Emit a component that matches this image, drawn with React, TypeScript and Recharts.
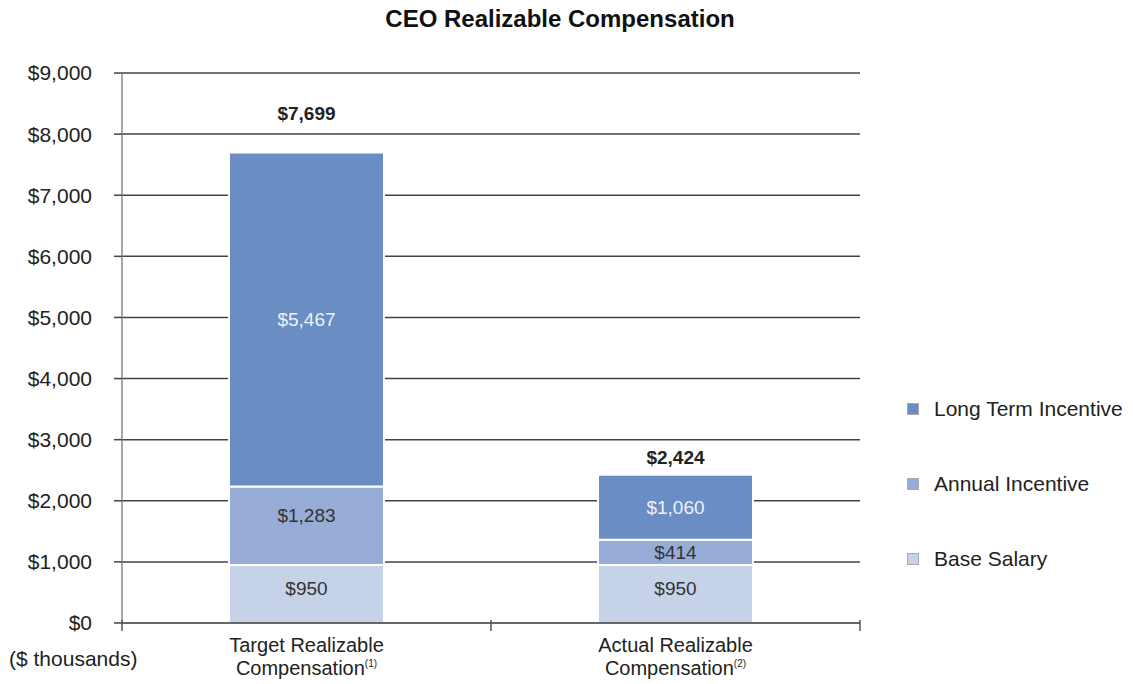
import React from 'react';
import { BarChart, Bar, XAxis, YAxis, CartesianGrid, LabelList } from 'recharts';

const categories = ['Target Realizable Compensation', 'Actual Realizable Compensation'];
const footnotes = ['(1)', '(2)'];
const baseSalary = [950, 950];
const annualIncentive = [1283, 414];
const longTermIncentive = [5467, 1060];
const totals = [7699, 2424];
const yTicks = [0, 1000, 2000, 3000, 4000, 5000, 6000, 7000, 8000, 9000];
const xTicks = [0, 0.5, 1, 1.5, 2];

const data = categories.map((c, i) => ({
  name: c,
  idx: i,
  base: baseSalary[i],
  annual: annualIncentive[i],
  lti: longTermIncentive[i],
  total: totals[i],
}));

const FONT = '"Liberation Sans", Arial, Helvetica, sans-serif';
const fmt = (v: number) => '$' + v.toLocaleString('en-US');

const AxisTick = (props: any) => {
  const { x, y, payload } = props;
  const v = Number(payload.value);
  if (Number.isInteger(v)) {
    return <line x1={x} x2={x} y1={y - 3} y2={y + 8} stroke="#555" strokeWidth={1.5} />;
  }
  const i = Math.floor(v);
  const words = categories[i].split(' ');
  const line1 = words.slice(0, 2).join(' ');
  const line2 = words.slice(2).join(' ');
  return (
    <g>
      <text x={x} y={y + 29} textAnchor="middle" fontSize={20} fill="#222" fontFamily={FONT}>{line1}</text>
      <text x={x} y={y + 52} textAnchor="middle" fontSize={20} fill="#222" fontFamily={FONT}>
        {line2}
        <tspan fontSize={10} dy={-8}>{footnotes[i]}</tspan>
      </text>
    </g>
  );
};

const totalOffsets = [39, 18];
const TotalLabel = (props: any) => {
  const { x, y, width, index } = props;
  return (
    <text x={x + width / 2} y={y - totalOffsets[index] + 7} textAnchor="middle" fontSize={19} fontWeight="bold" fill="#222" fontFamily={FONT}>
      {fmt(totals[index])}
    </text>
  );
};

const inner = (color: string, shifts: number[]) => (props: any) => {
  const { x, y, width, height, value, index } = props;
  return (
    <text x={x + width / 2} y={y + height / 2 + 7 - (shifts[index] || 0)} textAnchor="middle" fontSize={19} fill={color} fontFamily={FONT}>
      {fmt(value)}
    </text>
  );
};

const legendItems = [
  { label: 'Long Term Incentive', color: '#6a8dc4' },
  { label: 'Annual Incentive', color: '#97acd6' },
  { label: 'Base Salary', color: '#c6d2e8' },
];

export default function App() {
  return (
    <div style={{ position: 'absolute', left: 0, top: 0, width: 1133, height: 684, background: '#fff' }}>
      <BarChart width={1133} height={684} data={data} margin={{ top: 73, right: 273, left: 0, bottom: 0 }} barCategoryGap="29%">
        <CartesianGrid horizontal vertical={false} stroke="#444" strokeWidth={1.5} />
        <XAxis dataKey="name" hide height={0} />
        <XAxis xAxisId="t" type="number" dataKey="idx" domain={[0, 2]} ticks={xTicks} height={61} tick={<AxisTick />} tickLine={false} tickSize={0} tickMargin={0} axisLine={{ stroke: '#666', strokeWidth: 2 }} interval={0} allowDataOverflow />
        <YAxis width={122} domain={[0, 9000]} ticks={yTicks} tickFormatter={fmt} axisLine={{ stroke: '#888', strokeWidth: 1.5 }} tickLine={{ stroke: '#444', strokeWidth: 1.5 }} tickSize={8} tickMargin={22} tick={{ fontSize: 21, fill: '#222', fontFamily: FONT }} />
        <Bar dataKey="base" stackId="a" fill="#c6d2e8" stroke="#fff" strokeWidth={2} isAnimationActive={false}>
          <LabelList dataKey="base" content={inner('#333', [6, 6])} />
        </Bar>
        <Bar dataKey="annual" stackId="a" fill="#97acd6" stroke="#fff" strokeWidth={2} isAnimationActive={false}>
          <LabelList dataKey="annual" content={inner('#333', [11, 0])} />
        </Bar>
        <Bar dataKey="lti" stackId="a" fill="#6a8dc4" stroke="#fff" strokeWidth={2} isAnimationActive={false}>
          <LabelList dataKey="lti" content={inner('#eef2fa', [0, 0])} />
          <LabelList dataKey="total" content={<TotalLabel />} />
        </Bar>
      </BarChart>
      <div style={{ position: 'absolute', left: 0, top: 5, width: 1120, textAlign: 'center', fontFamily: FONT, fontWeight: 'bold', fontSize: 24, color: '#111' }}>
        CEO Realizable Compensation
      </div>
      <div style={{ position: 'absolute', left: 9, top: 647, fontFamily: FONT, fontSize: 21, color: '#222' }}>
        ($ thousands)
      </div>
      <div style={{ position: 'absolute', left: 907, top: 396, fontFamily: FONT, fontSize: 21, color: '#222' }}>
        {legendItems.map((it) => (
          <div key={it.label} style={{ display: 'flex', alignItems: 'center', height: 25, marginBottom: 50 }}>
            <span style={{ display: 'inline-block', width: 10, height: 10, background: it.color, border: '1.5px solid #aaa', marginRight: 15 }} />
            <span>{it.label}</span>
          </div>
        ))}
      </div>
    </div>
  );
}
